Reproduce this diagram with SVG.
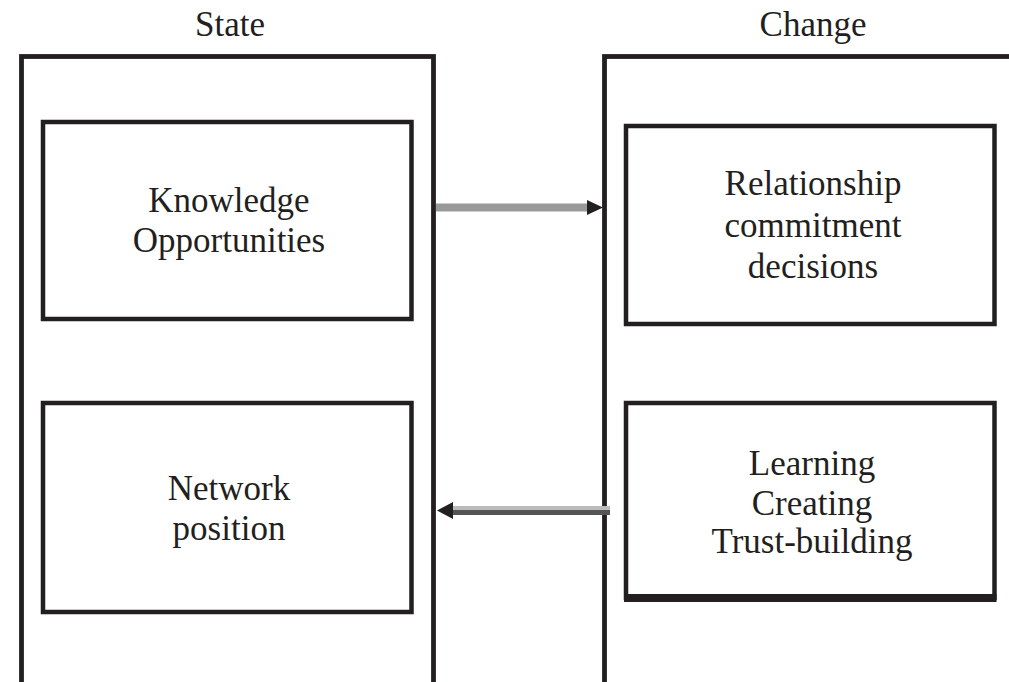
<svg xmlns="http://www.w3.org/2000/svg" width="1009" height="682" viewBox="0 0 1009 682">
<style>
.box{fill:none;stroke:#231f20;stroke-width:4.5}
.outer{fill:none;stroke:#231f20;stroke-width:4.8}
.t{font-family:'Liberation Serif','Tinos','DejaVu Serif',serif;font-size:35px;fill:#231f20;text-anchor:middle}
</style>
<rect width="1009" height="682" fill="#ffffff"/>
<g id="state">
<rect class="outer" x="21.5" y="56.5" width="412" height="628"/>
<text class="t" x="230" y="36">State</text>
</g>
<g id="change">
<rect class="outer" x="604.5" y="56.5" width="420" height="628"/>
<text class="t" x="813" y="36">Change</text>
</g>
<g id="knowledge">
<rect class="box" x="43" y="122" width="368.5" height="197"/>
<text class="t" x="229" y="212">Knowledge</text>
<text class="t" x="229" y="252">Opportunities</text>
</g>
<g id="network">
<rect class="box" x="43" y="403" width="368.5" height="209"/>
<text class="t" x="229" y="500">Network</text>
<text class="t" x="229" y="540">position</text>
</g>
<g id="relationship">
<rect class="box" x="626" y="126" width="368.5" height="198"/>
<text class="t" x="813" y="195">Relationship</text>
<text class="t" x="813" y="237">commitment</text>
<text class="t" x="813" y="278">decisions</text>
</g>
<g id="learning">
<rect class="box" x="626" y="403" width="368.5" height="195"/>
<line x1="624" y1="598" x2="996.5" y2="598" stroke="#231f20" stroke-width="8"/>
<text class="t" x="812" y="475">Learning</text>
<text class="t" x="812" y="515">Creating</text>
<text class="t" x="812" y="553">Trust-building</text>
</g>
<g id="connectors">
<line x1="436" y1="207.5" x2="590" y2="207.5" stroke="#999999" stroke-width="8"/>
<polygon points="587,200 603,207.5 587,215" fill="#231f20"/>
<line x1="450" y1="508" x2="610" y2="508" stroke="#bbbbbb" stroke-width="4"/>
<line x1="450" y1="512.5" x2="610" y2="512.5" stroke="#555555" stroke-width="5"/>
<polygon points="437,510.5 453,502 453,519" fill="#231f20"/>
</g>
</svg>
